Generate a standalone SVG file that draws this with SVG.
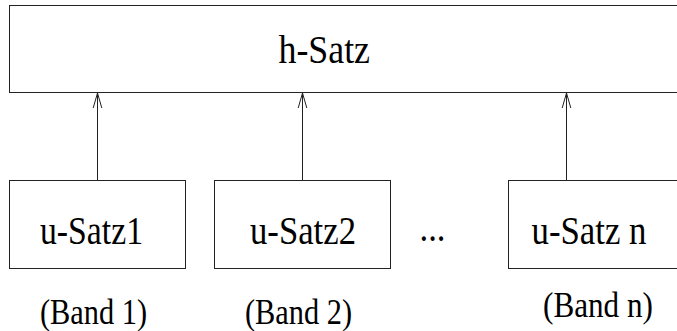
<svg xmlns="http://www.w3.org/2000/svg" width="677" height="331" viewBox="0 0 677 331">
<style>
.box{fill:#fff;stroke:#222;stroke-width:1}
.lbl{font-family:"Liberation Serif","Times New Roman",serif;font-size:40px;fill:#000}
.band{font-family:"Liberation Serif","Times New Roman",serif;font-size:35px;fill:#000}
.conn{stroke:#222;stroke-width:1;fill:none}
</style>
<defs>
<marker id="arr" markerUnits="userSpaceOnUse" markerWidth="20" markerHeight="12" viewBox="-16 -6 20 12" refX="0" refY="0" orient="auto">
<path d="M-15,-4.3 L0,0 L-15,4.3" fill="none" stroke="#222" stroke-width="1"/>
</marker>
</defs>
<rect width="677" height="331" fill="#fff"/>
<g id="h-satz">
<rect class="box" x="9.5" y="5.5" width="680" height="87"/>
<text class="lbl" x="278.5" y="63" textLength="91.5" lengthAdjust="spacingAndGlyphs">h-Satz</text>
</g>
<g id="u-satz1">
<rect class="box" x="9.5" y="180.5" width="176" height="88"/>
<text class="lbl" x="40" y="244" textLength="103" lengthAdjust="spacingAndGlyphs">u-Satz1</text>
</g>
<g id="u-satz2">
<rect class="box" x="214.5" y="180.5" width="176" height="88"/>
<text class="lbl" x="250" y="244" textLength="106" lengthAdjust="spacingAndGlyphs">u-Satz2</text>
</g>
<g id="u-satzn">
<rect class="box" x="508.5" y="180.5" width="180" height="88"/>
<text class="lbl" x="531.5" y="244" textLength="115" lengthAdjust="spacingAndGlyphs">u-Satz n</text>
</g>
<g id="ellipsis">
<text class="lbl" x="419.5" y="241" textLength="26" lengthAdjust="spacingAndGlyphs">...</text>
</g>
<g id="band-labels">
<text class="band" x="40" y="324" textLength="107" lengthAdjust="spacingAndGlyphs">(Band 1)</text>
<text class="band" x="245" y="324" textLength="107" lengthAdjust="spacingAndGlyphs">(Band 2)</text>
<text class="band" x="543" y="317" textLength="110" lengthAdjust="spacingAndGlyphs">(Band n)</text>
</g>
<g id="connectors">
<line class="conn" x1="97.5" y1="180.5" x2="97.5" y2="93" marker-end="url(#arr)"/>
<line class="conn" x1="302.5" y1="180.5" x2="302.5" y2="93" marker-end="url(#arr)"/>
<line class="conn" x1="566.5" y1="180.5" x2="566.5" y2="93" marker-end="url(#arr)"/>
</g>
</svg>
